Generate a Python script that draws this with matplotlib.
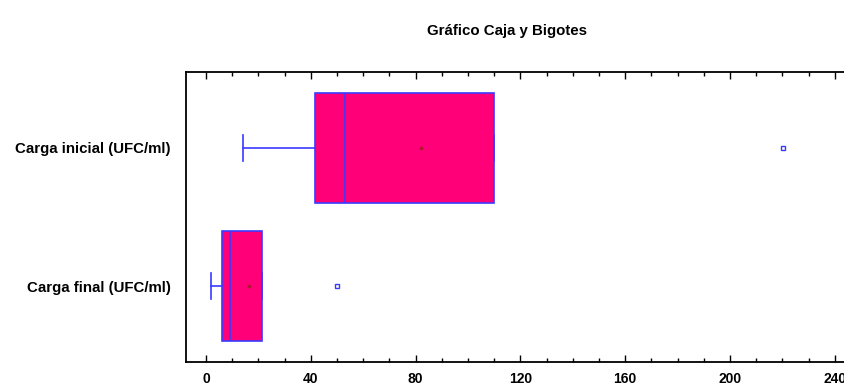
import matplotlib
matplotlib.use("Agg")
import matplotlib.pyplot as plt
from matplotlib.ticker import MultipleLocator

# box-and-whisker summaries (UFC/ml)
labels = ["Carga final (UFC/ml)", "Carga inicial (UFC/ml)"]
q1 = [6.1, 41.5]
med = [9.2, 53.2]
q3 = [21.5, 109.9]
whislo = [1.8, 14.0]
whishi = [21.5, 109.9]
means = [16.5, 81.9]
fliers = [[50.0], [220.1]]

plt.rcParams["font.family"] = ["Liberation Sans", "DejaVu Sans"]
plt.rcParams["font.weight"] = "bold"

fig = plt.figure(figsize=(8.45, 3.87), dpi=100)
ax = fig.add_axes([186/845, 25/387, 675/845, 290/387])

stats = []
for i in range(len(labels)):
    stats.append(dict(label=labels[i], q1=q1[i], med=med[i], q3=q3[i],
                      whislo=whislo[i], whishi=whishi[i], mean=means[i],
                      fliers=fliers[i]))

blue = "#3a3aff"
ax.bxp(stats, positions=[1, 2], vert=False, widths=0.8, patch_artist=True,
       showmeans=True, showcaps=True,
       boxprops=dict(facecolor="#ff0078", edgecolor=blue, linewidth=1.2),
       medianprops=dict(color=blue, linewidth=1.2),
       whiskerprops=dict(color=blue, linewidth=1.2),
       capprops=dict(color=blue, linewidth=1.2),
       capwidths=0.19,
       meanprops=dict(marker="+", markersize=3, markeredgecolor="#8b2a10",
                      markeredgewidth=1.0),
       flierprops=dict(marker="s", markersize=3.5, markerfacecolor="white",
                       markeredgecolor=blue, markeredgewidth=1.0))

ax.set_xlim(-7.6, 250)
ax.set_ylim(0.45, 2.55)
ax.xaxis.set_major_locator(MultipleLocator(40))
ax.xaxis.set_minor_locator(MultipleLocator(10))
ax.tick_params(axis="x", which="major", direction="in", length=5, width=1,
               top=True, labelsize=10, pad=7)
ax.tick_params(axis="x", which="minor", direction="in", length=3, width=1, top=True)
ax.tick_params(axis="y", length=0, labelsize=10.8, pad=11)
for lab in ax.get_xticklabels() + ax.get_yticklabels():
    lab.set_fontweight("bold")
for s in ax.spines.values():
    s.set_linewidth(1.3)

fig.text(507/845, 1 - 31/387, "Gráfico Caja y Bigotes", ha="center", va="center",
         fontsize=10.8, fontweight="bold")

fig.savefig("out.png", dpi=100)
